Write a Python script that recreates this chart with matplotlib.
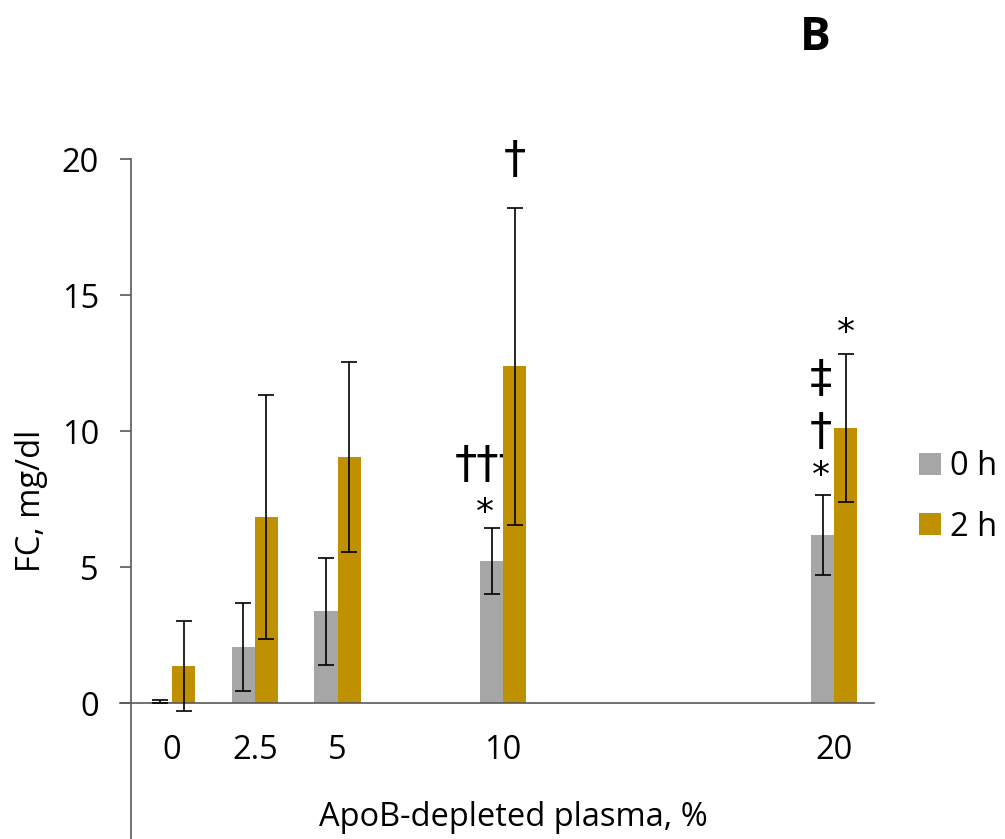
import matplotlib
matplotlib.use("Agg")
import matplotlib.pyplot as plt
from matplotlib.patches import Patch

plt.rcParams['font.family'] = ['Open Sans', 'DejaVu Sans']

concentrations = [0, 2.5, 5, 10, 20]
tick_labels = ['0', '2.5', '5', '10', '20']
fc_0h = [0.05, 2.05, 3.37, 5.22, 6.18]
err_0h = [0.05, 1.62, 1.97, 1.21, 1.47]
fc_2h = [1.35, 6.84, 9.04, 12.38, 10.11]
err_2h = [1.66, 4.5, 3.5, 5.83, 2.73]
series_labels = ['0 h', '2 h']
colors = ['#A6A6A6', '#BF9000']

# annotations: (x, y, text, zorder)
annotations = [
    (10.36, 19.95, '\u2020', 3),
    (9.55, 8.75, '\u2020\u2020\u2020', 1),
    (9.45, 7.0, '*', 3),
    (19.6, 11.9, '\u2021', 3),
    (19.6, 9.95, '\u2020', 3),
    (19.6, 8.35, '*', 3),
    (20.36, 13.6, '*', 3),
]

W, H = 1005, 839
fig = plt.figure(figsize=(W / 100, H / 100), dpi=100)
ax = fig.add_axes([120 / W, 0.0, (874 - 120) / W, (840 - 160) / H])

bw = 0.7
x0 = [c - bw / 2 for c in concentrations]
x1 = [c + bw / 2 for c in concentrations]
ekw = dict(ecolor='black', elinewidth=1.2, capsize=5.5, capthick=1.2, zorder=4)
ax.bar(x0, fc_0h, width=bw, color=colors[0], zorder=2, yerr=err_0h, error_kw=ekw)
ax.bar(x1, fc_2h, width=bw, color=colors[1], zorder=2, yerr=err_2h, error_kw=ekw)

for (x, y, t, z) in annotations:
    if t == '*':
        ax.text(x, y, t, ha='center', va='center', fontsize=26, zorder=z,
                family=['DejaVu Sans'])
    else:
        ax.text(x, y, t, ha='center', va='center', fontsize=32, zorder=z,
                family=['DejaVu Sans'])

ax.set_xlim(-1.57, 21.2)
ax.set_ylim(-5, 20)
ax.spines['top'].set_visible(False)
ax.spines['right'].set_visible(False)
ax.spines['left'].set_position(('data', -1.24))
ax.spines['bottom'].set_position(('data', 0))
for s in ['left', 'bottom']:
    ax.spines[s].set_color('#595959')
    ax.spines[s].set_linewidth(1.2)

ax.set_yticks([0, 5, 10, 15, 20])
ax.set_yticklabels(['0', '5', '10', '15', '20'])
ax.set_xticks(concentrations)
ax.set_xticklabels(tick_labels)
ax.tick_params(axis='y', direction='out', length=8, width=1.2, color='#595959',
               labelsize=23.5, pad=15)
ax.tick_params(axis='x', length=0, labelsize=23.5, pad=22)

fig.text(32 / W, 1 - 501 / H, 'FC, mg/dl', rotation=90, ha='center', va='center', fontsize=23.5)
fig.text(513 / W, 1 - 818 / H, 'ApoB-depleted plasma, %', ha='center', va='center', fontsize=23.5)
fig.text(815 / W, 1 - 38 / H, 'B', ha='center', va='center', fontsize=33, fontweight='bold')

handles = [Patch(facecolor=c, edgecolor='none') for c in colors]
fig.legend(handles, series_labels, loc='upper left', bbox_to_anchor=(919 / W, 1 - 450 / H),
           frameon=False, fontsize=23.5, handlelength=0.66, handleheight=0.66,
           handletextpad=0.3, labelspacing=0.85, borderpad=0, borderaxespad=0)

fig.savefig('out.png', dpi=100)
